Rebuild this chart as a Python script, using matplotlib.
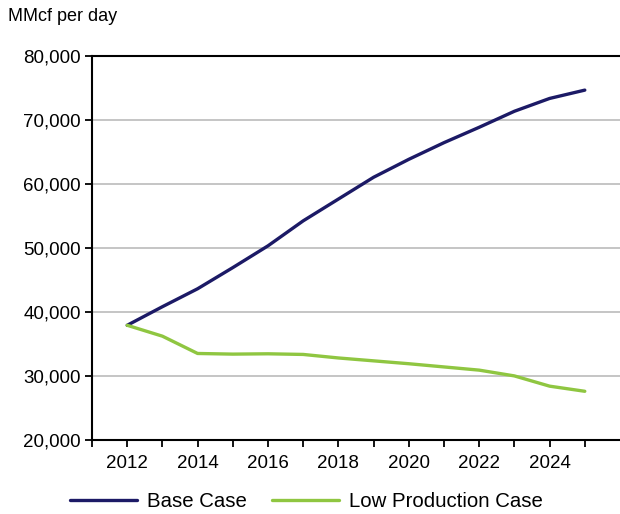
import matplotlib.pyplot as plt
from matplotlib.ticker import FuncFormatter

plt.rcParams['font.family'] = ['Liberation Sans', 'DejaVu Sans']

years = list(range(2012, 2026))
base_case = [37900, 40800, 43600, 46900, 50300, 54200, 57600, 61000, 63800, 66400, 68800, 71300, 73300, 74600]
low_case = [37900, 36200, 33500, 33400, 33450, 33350, 32800, 32350, 31900, 31400, 30900, 30000, 28400, 27600]

fig = plt.figure(figsize=(6.2, 5.14), dpi=100)
ax = fig.add_axes([0.1484, 0.144, 0.8516, 0.748])

ax.plot(years, base_case, color="#1c1a66", lw=2.4, label="Base Case", solid_capstyle="round")
ax.plot(years, low_case, color="#8fc641", lw=2.4, label="Low Production Case", solid_capstyle="round")

ax.set_xlim(2011, 2026)
ax.set_ylim(20000, 80000)
ax.set_yticks(range(20000, 80001, 10000))
ax.yaxis.set_major_formatter(FuncFormatter(lambda v, p: f"{int(v):,}"))
ax.set_xticks(range(2011, 2026))
ax.set_xticklabels([str(y) if y % 2 == 0 else "" for y in range(2011, 2026)])

ax.grid(axis="y", color="#c0c0c0", lw=1.3)
ax.set_axisbelow(True)
for s in ["left", "bottom", "top"]:
    ax.spines[s].set_linewidth(1.5)
ax.spines["right"].set_visible(False)
ax.tick_params(axis="both", direction="out", length=5, width=1.3, labelsize=13.5, pad=3)
ax.tick_params(axis="x", labelsize=13.5, pad=6)

fig.text(0.013, 0.967, "MMcf per day", fontsize=13, va="center", ha="left")

fig.legend(loc="lower center", bbox_to_anchor=(0.494, -0.03), ncol=2, frameon=False,
           fontsize=14.7, handlelength=3.3, columnspacing=1.2, handletextpad=0.5)

fig.savefig("out.png", dpi=100)
